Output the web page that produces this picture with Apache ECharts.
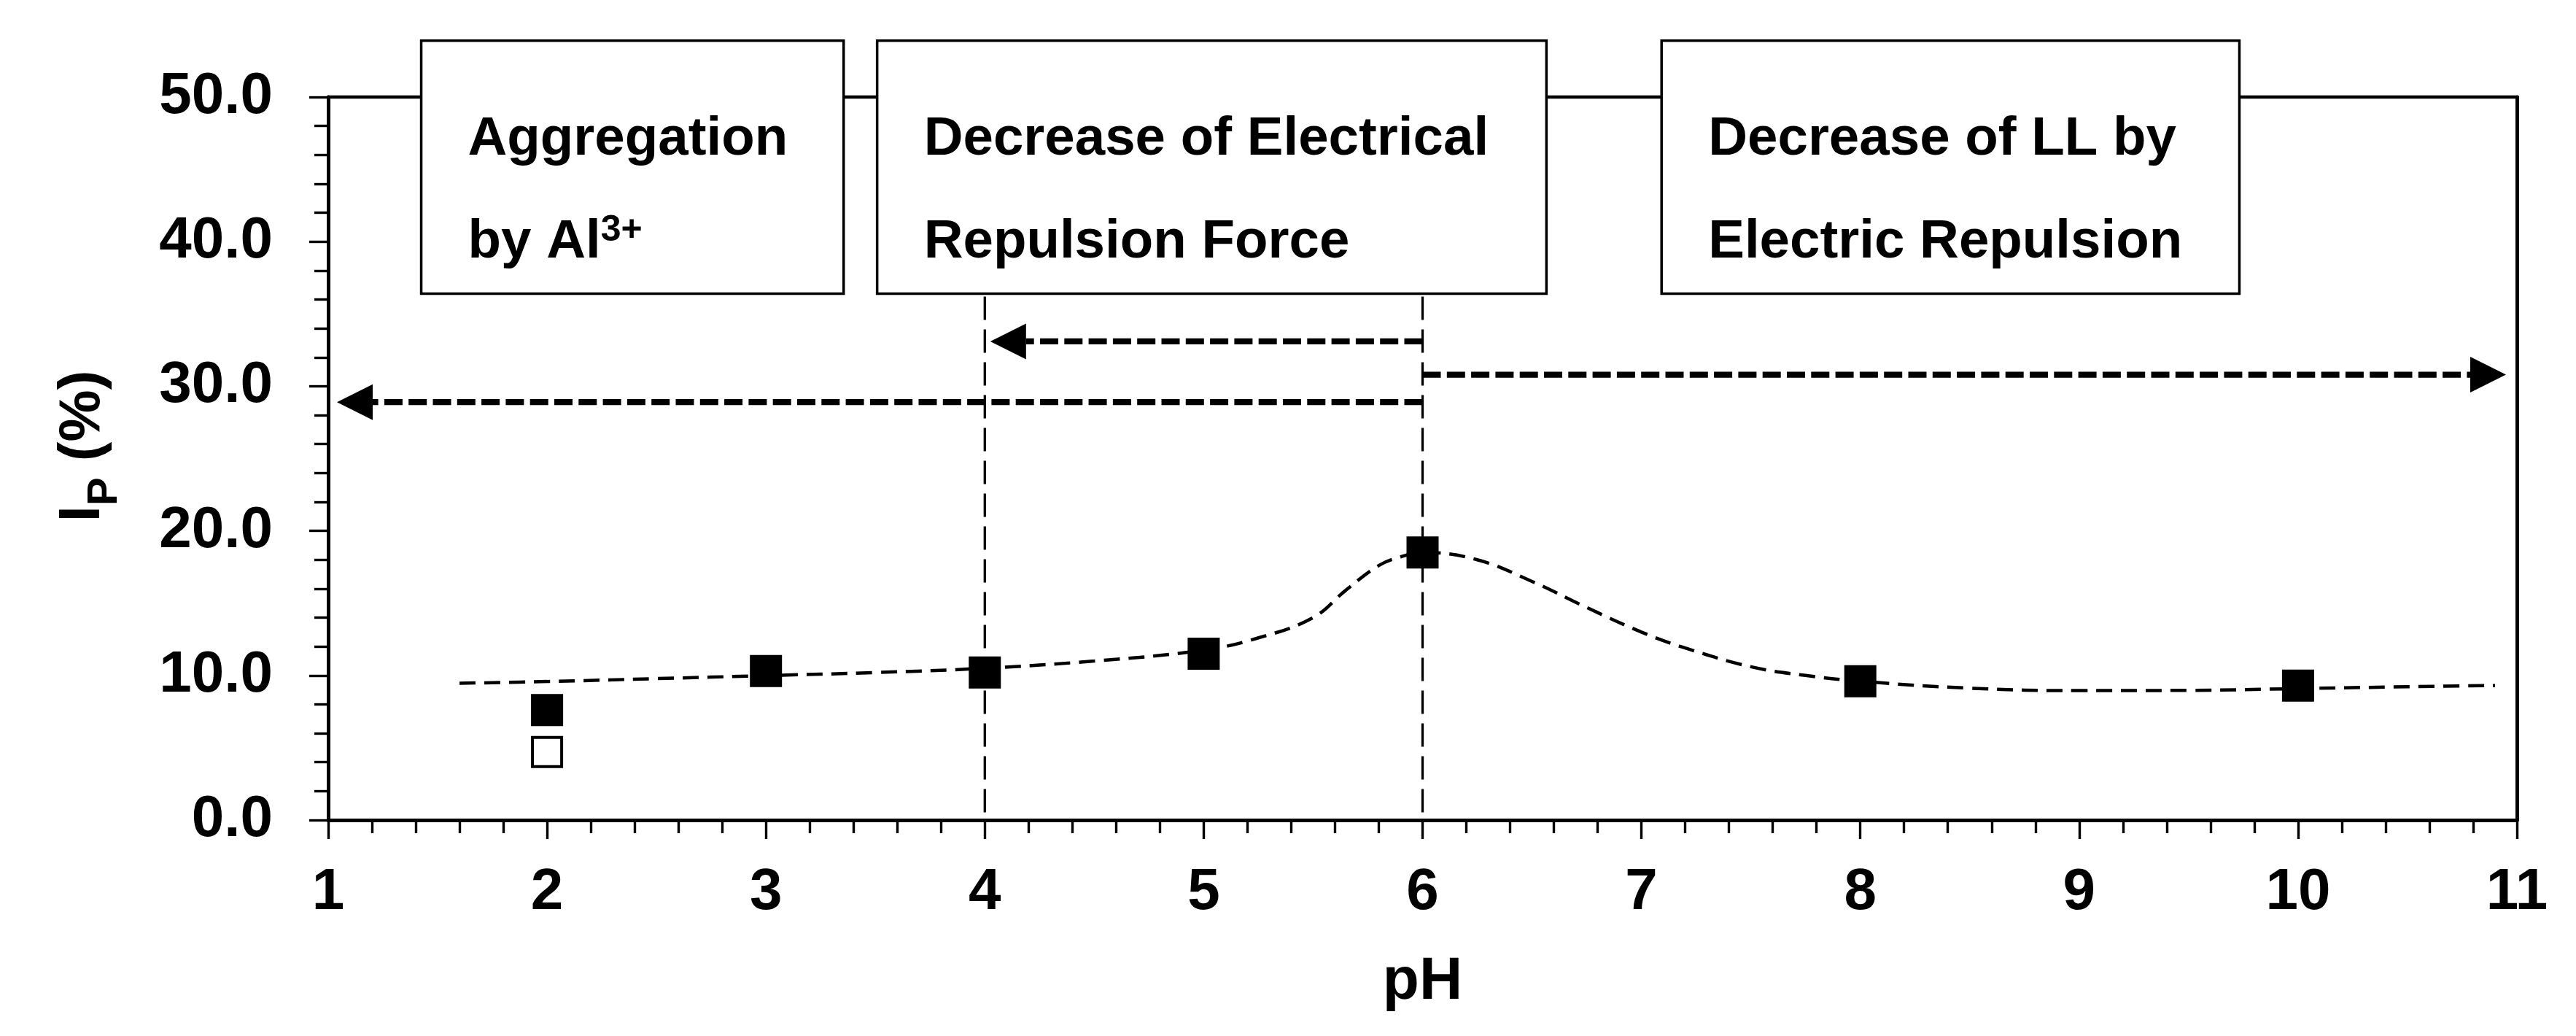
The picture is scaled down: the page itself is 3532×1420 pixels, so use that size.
<!DOCTYPE html>
<html>
<head>
<meta charset="utf-8">
<script src="https://cdn.jsdelivr.net/npm/echarts@6/dist/echarts.min.js"></script>
<style>
    html, body { margin: 0; padding: 0; background: #fff; }
    #chartDiv { width: 3532px; height: 1420px; }
</style>
</head>
<body>
<div id="chartDiv"></div>
<script>
// Measured points (filled / open squares)
const phFilled = [2, 3, 4, 5, 6, 8, 10];
const ipFilled = [7.6, 10.3, 10.2, 11.5, 18.5, 9.6, 9.3];
const phOpen = [2];
const ipOpen = [4.7];

// Dashed trend curve
const curvePh = [1.6, 2, 2.5, 3, 3.5, 4, 4.5, 5, 5.25, 5.5, 5.65, 5.8, 5.9, 6, 6.25, 6.5, 6.75, 7, 7.2, 7.5, 7.75, 8, 8.5, 9, 9.5, 10, 10.5, 10.9];
const curveIp = [9.46, 9.58, 9.78, 9.99, 10.2, 10.5, 11.0, 11.75, 12.6, 14.0, 15.9, 17.6, 18.2, 18.5, 18.0, 16.5, 14.7, 13.0, 11.9, 10.6, 10.0, 9.6, 9.12, 8.95, 8.97, 9.09, 9.22, 9.3];

// Axes
const xRange = [1, 11];
const yRange = [0, 50];

// Annotations (in data units)
const boxLines = [
    ['Aggregation', '{m|by Al}{s|3+}'],
    ['Decrease of Electrical', 'Repulsion Force'],
    ['Decrease of LL by', 'Electric Repulsion']
];
const boxPh = [[1.425, 3.355], [3.508, 6.566], [7.092, 9.732]];
const boxIp = [36.4, 53.9];
const guidePh = [4, 6];
const guideTop = 36.2;
const arrowFrom = [6, 6, 6];
const arrowTo = [4.025, 10.95, 1.04];
const arrowIp = [33.1, 30.8, 28.9];

const FONT = '"Liberation Sans", Arial, sans-serif';

function init() {
    const chartDom = document.getElementById('chartDiv');
    const myChart = echarts.init(chartDom, null, { renderer: 'canvas' });

    const option = {
        backgroundColor: '#fff',
        animation: false,
        grid: { left: 450, right: 81, top: 133, bottom: 296 },
        xAxis: [
            {
                type: 'value',
                min: xRange[0],
                max: xRange[1],
                interval: 1,
                name: 'pH',
                nameLocation: 'middle',
                nameGap: 181,
                nameTextStyle: { fontFamily: FONT, fontWeight: 'bold', fontSize: 82, color: '#000' },
                axisLine: { onZero: false, lineStyle: { color: '#000', width: 5 } },
                axisTick: { inside: false, length: 26, lineStyle: { color: '#000', width: 3.4 } },
                minorTick: { show: true, splitNumber: 5, length: 18, lineStyle: { color: '#000', width: 3.4 } },
                axisLabel: { margin: 60, fontFamily: FONT, fontWeight: 'bold', fontSize: 80, color: '#000' },
                splitLine: { show: false }
            },
            {
                type: 'value',
                position: 'top',
                min: xRange[0],
                max: xRange[1],
                axisLine: { onZero: false, lineStyle: { color: '#000', width: 4.4 } },
                axisTick: { show: false },
                axisLabel: { show: false },
                splitLine: { show: false }
            }
        ],
        yAxis: [
            {
                type: 'value',
                min: yRange[0],
                max: yRange[1],
                interval: 10,
                name: '{m|I}{s|P}{m| (%)}',
                nameLocation: 'middle',
                nameGap: 296,
                nameTextStyle: {
                    padding: [0, 0, 0, 34],
                    rich: {
                        m: { fontFamily: FONT, fontWeight: 'bold', fontSize: 80, lineHeight: 80, color: '#000' },
                        s: { fontFamily: FONT, fontWeight: 'bold', fontSize: 58, height: 20, lineHeight: 20, verticalAlign: 'bottom', color: '#000' }
                    }
                },
                axisLine: { onZero: false, lineStyle: { color: '#000', width: 5 } },
                axisTick: { inside: false, length: 26, lineStyle: { color: '#000', width: 3.4 } },
                minorTick: { show: true, splitNumber: 5, length: 19, lineStyle: { color: '#000', width: 3.4 } },
                axisLabel: {
                    margin: 76,
                    fontFamily: FONT, fontWeight: 'bold', fontSize: 80, color: '#000',
                    formatter: v => v.toFixed(1)
                },
                splitLine: { show: false }
            },
            {
                type: 'value',
                position: 'right',
                min: yRange[0],
                max: yRange[1],
                axisLine: { onZero: false, lineStyle: { color: '#000', width: 5 } },
                axisTick: { show: false },
                axisLabel: { show: false },
                splitLine: { show: false }
            }
        ],
        series: [
            {
                name: 'trend',
                type: 'line',
                xAxisIndex: 0,
                yAxisIndex: 0,
                data: curvePh.map((x, i) => [x, curveIp[i]]),
                smooth: 0.4,
                showSymbol: false,
                symbol: 'none',
                lineStyle: { color: '#000', width: 4.5, type: [22, 12] }
            },
            {
                name: 'filled',
                type: 'scatter',
                xAxisIndex: 0,
                yAxisIndex: 0,
                data: phFilled.map((x, i) => [x, ipFilled[i]]),
                symbol: 'rect',
                symbolSize: 44,
                itemStyle: { color: '#000', opacity: 1 }
            },
            {
                name: 'open',
                type: 'scatter',
                xAxisIndex: 0,
                yAxisIndex: 0,
                data: phOpen.map((x, i) => [x, ipOpen[i]]),
                symbol: 'rect',
                symbolSize: 40,
                itemStyle: { color: '#fff', borderColor: '#000', borderWidth: 4, opacity: 1 }
            }
        ]
    };

    myChart.setOption(option);
    myChart.setOption({ graphic: buildAnnotations(myChart) });
}

function buildAnnotations(chart) {
    const px = (x, y) => chart.convertToPixel({ gridIndex: 0 }, [x, y]);
    const els = [];

    // vertical guide lines
    guidePh.forEach(ph => {
        const a = px(ph, guideTop);
        const b = px(ph, 0);
        els.push({
            type: 'line', z: 1,
            shape: { x1: a[0], y1: a[1], x2: b[0], y2: b[1] },
            style: { stroke: '#000', lineWidth: 3.3, lineDash: [32, 13] }
        });
    });

    // dashed arrows
    const headLen = 49, headHalf = 24.5;
    arrowFrom.forEach((from, i) => {
        const start = px(from, arrowIp[i]);
        const tip = px(arrowTo[i], arrowIp[i]);
        const dir = tip[0] > start[0] ? 1 : -1;
        const baseX = tip[0] - dir * headLen;
        els.push({
            type: 'line', z: 1,
            shape: { x1: start[0], y1: start[1], x2: baseX, y2: tip[1] },
            style: { stroke: '#000', lineWidth: 8.3, lineDash: [25, 8.3] }
        });
        els.push({
            type: 'polygon', z: 1,
            shape: { points: [[tip[0], tip[1]], [baseX, tip[1] - headHalf], [baseX, tip[1] + headHalf]] },
            style: { fill: '#000' }
        });
    });

    // label boxes
    boxPh.forEach((r, i) => {
        const tl = px(r[0], boxIp[1]);
        const br = px(r[1], boxIp[0]);
        els.push({
            type: 'rect', z: 10,
            shape: { x: tl[0], y: tl[1], width: br[0] - tl[0], height: br[1] - tl[1] },
            style: { fill: '#fff', stroke: '#000', lineWidth: 3.5 }
        });
        boxLines[i].forEach((line, j) => {
            els.push({
                type: 'text', z: 11,
                x: tl[0] + 64,
                y: tl[1] + (j === 0 ? 135.7 : 276.4),
                style: {
                    text: line,
                    fill: '#000',
                    fontFamily: FONT,
                    fontWeight: 'bold',
                    fontSize: 74.5,
                    align: 'left',
                    verticalAlign: 'middle',
                    rich: {
                        m: { fontFamily: FONT, fontWeight: 'bold', fontSize: 74.5, lineHeight: 74.5, fill: '#000' },
                        s: { fontFamily: FONT, fontWeight: 'bold', fontSize: 50, height: 42, lineHeight: 42, verticalAlign: 'top', fill: '#000' }
                    }
                }
            });
        });
    });

    return els;
}

init();
</script>
</body>
</html>
